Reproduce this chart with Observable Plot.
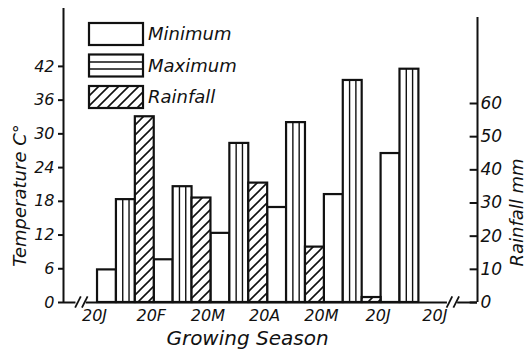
<!DOCTYPE html>
<html><head><meta charset="utf-8">
<script src="https://cdn.jsdelivr.net/npm/d3@7"></script>
<script src="https://cdn.jsdelivr.net/npm/@observablehq/plot@0.6"></script>
<style>body{margin:0;background:#fff}#chart{position:relative;width:526px;height:353px}</style>
</head><body><div id="chart"></div>
<script>
// ---- data ----
const boundaryLabels = ["20J", "20F", "20M", "20A", "20M", "20J", "20J"];
const minTemp  = [5.8, 7.6, 12.3, 16.9, 19.2, 26.5];   // °C
const maxTemp  = [18.3, 20.6, 28.3, 32.0, 39.5, 41.5]; // °C
const rainfall = [56, 31.5, 36, 16.7, 1.5, 0];         // mm
const tempTicks = [0, 6, 12, 18, 24, 30, 36, 42];
const rainTicks = [0, 10, 20, 30, 40, 50, 60];
const legendItems = ["Minimum", "Maximum", "Rainfall"];
const axisBreaks = [-0.29, 6.26];
const K = 0.59; // mm -> temperature-axis units

const rows = minTemp.map((m, i) => ({i, min: m, max: maxTemp[i], rain: rainfall[i]}));
const w = 1 / 3;
const stripes = rows.flatMap(d => [{x: d.i + w + w / 3, y: d.max}, {x: d.i + w + 2 * w / 3, y: d.max}]);
const slashes = axisBreaks.flatMap(b => [b - 0.055, b + 0.065]);
const ink = "#111";

const plot = Plot.plot({
  width: 526, height: 353,
  marginLeft: 63, marginRight: 49, marginTop: 8, marginBottom: 51,
  style: {fontFamily: "DejaVu Sans", fontStyle: "italic", background: "white", color: ink},
  x: {domain: [-0.6, 6.7]},
  y: {domain: [0, 52.3]},
  marks: [
    // bars
    Plot.rect(rows, {x1: d => d.i, x2: d => d.i + w, y1: 0, y2: "min", fill: "white", stroke: ink, strokeWidth: 2.2}),
    Plot.rect(rows, {x1: d => d.i + w, x2: d => d.i + 2 * w, y1: 0, y2: "max", fill: "white", stroke: ink, strokeWidth: 2.2}),
    Plot.ruleX(stripes, {x: "x", y1: 0, y2: "y", stroke: ink, strokeWidth: 1.4}),
    Plot.rect(rows.filter(d => d.rain > 0), {x1: d => d.i + 2 * w, x2: d => d.i + 1, y1: 0, y2: d => d.rain * K, fill: "url(#hatch)", stroke: ink, strokeWidth: 2.2}),
    // axis lines
    Plot.ruleX([-0.6], {stroke: ink, strokeWidth: 2}),
    Plot.ruleX([6.7], {y1: 0, y2: 50.7, stroke: ink, strokeWidth: 2}),
    // baseline with breaks
    Plot.ruleY([0], {x1: -0.6, x2: -0.38, stroke: ink, strokeWidth: 2}),
    Plot.ruleY([0], {x1: -0.2, x2: 6.17, stroke: ink, strokeWidth: 2}),
    Plot.ruleY([0], {x1: 6.35, x2: 6.7, stroke: ink, strokeWidth: 2}),
    Plot.link(slashes, {x1: d => d - 0.05, x2: d => d + 0.05, y1: -0.9, y2: 1.1, stroke: ink, strokeWidth: 1.8}),
    // left axis
    Plot.axisY(tempTicks, {anchor: "left", tickSize: 5, tickPadding: 4, fontSize: 16, label: null, stroke: ink, strokeWidth: 2, fill: ink}),
    // right axis (labels + inward ticks)
    Plot.axisY(rainTicks.map(d => d * K), {anchor: "right", tickSize: 0, tickPadding: 3, fontSize: 17, label: null, tickFormat: d => Math.round(d / K), fill: ink}),
    Plot.ruleY(rainTicks, {y: d => d * K, x1: 6.57, x2: 6.7, stroke: ink, strokeWidth: 2}),
    // x labels at period boundaries
    Plot.axisX(boundaryLabels.map((_, i) => i), {anchor: "bottom", tickSize: 0, tickPadding: 7, fontSize: 16, label: null, tickFormat: i => boundaryLabels[i], dx: -3, fill: ink}),
    // axis titles
    Plot.text(["Growing Season"], {frameAnchor: "bottom", textAnchor: "middle", dx: -23, dy: 42, fontSize: 20, fill: ink}),
    Plot.text(["Temperature C°"], {frameAnchor: "left", textAnchor: "middle", dx: -43, dy: 40, rotate: -90, fontSize: 18, fill: ink}),
    Plot.text(["Rainfall mm"], {frameAnchor: "right", textAnchor: "middle", dx: 40, dy: 57, rotate: -90, fontSize: 18, fill: ink})
  ]
});

const svg = d3.select(plot);
const defs = svg.insert("defs", ":first-child");
const pat = defs.append("pattern").attr("id", "hatch").attr("patternUnits", "userSpaceOnUse").attr("width", 10).attr("height", 10);
pat.append("rect").attr("width", 10).attr("height", 10).attr("fill", "white");
pat.append("path").attr("d", "M-1,11 L11,-1 M-3,3 L3,-3 M7,13 L13,7").attr("stroke", ink).attr("stroke-width", 1.6);

// legend
const lg = svg.append("g").attr("transform", "translate(89,23)");
legendItems.forEach((name, k) => {
  const g = lg.append("g").attr("transform", `translate(0,${k * 31.5})`);
  g.append("rect").attr("width", 54).attr("height", 22)
    .attr("fill", k === 2 ? "url(#hatch)" : "white").attr("stroke", ink).attr("stroke-width", 2.2);
  if (k === 1) {
    g.append("line").attr("x1", 0).attr("x2", 54).attr("y1", 7.5).attr("y2", 7.5).attr("stroke", ink).attr("stroke-width", 1.4);
    g.append("line").attr("x1", 0).attr("x2", 54).attr("y1", 14.5).attr("y2", 14.5).attr("stroke", ink).attr("stroke-width", 1.4);
  }
  g.append("text").attr("x", 59).attr("y", 17).attr("font-size", 18).attr("font-style", "italic")
    .attr("text-anchor", "start").attr("fill", ink).text(name);
});

document.getElementById("chart").append(plot);
</script></body></html>
